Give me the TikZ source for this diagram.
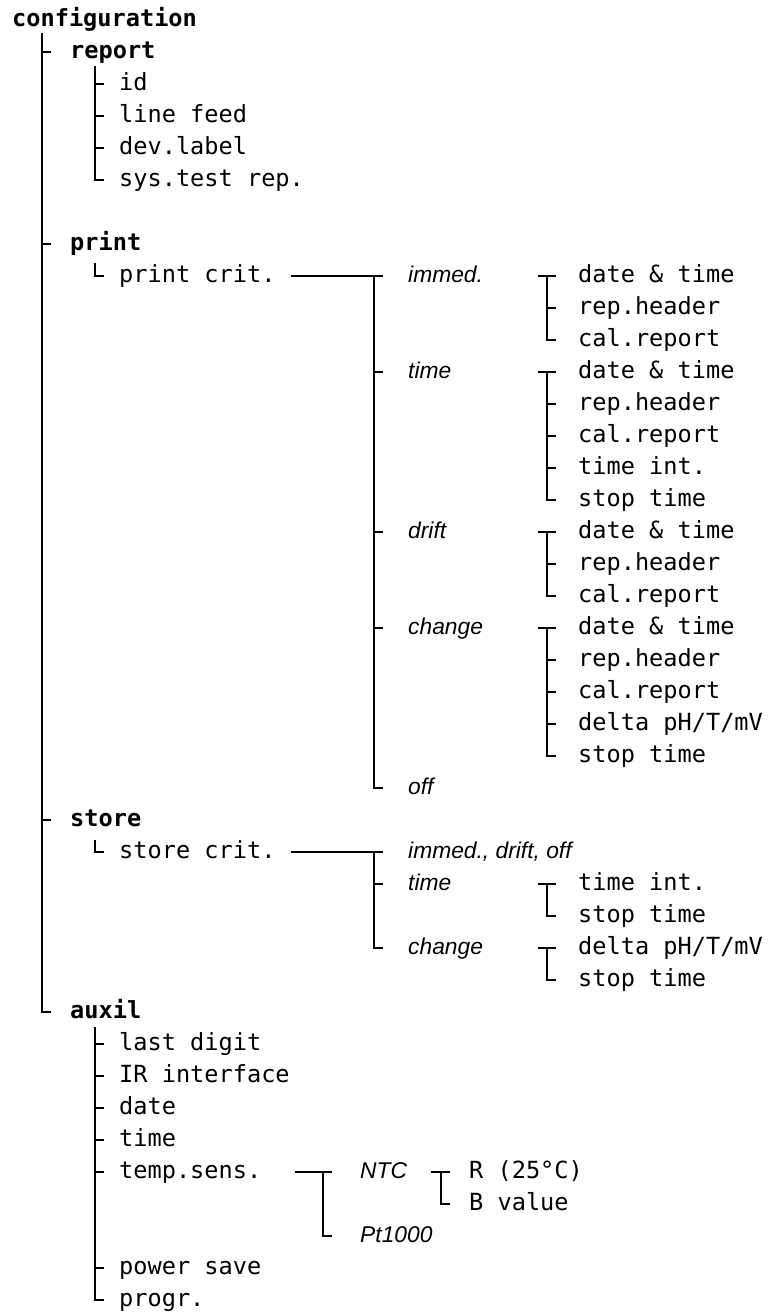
\documentclass[tikz,border=0pt]{standalone}
\usepackage{fontspec}
\setmonofont{DejaVu Sans Mono}
\newfontfamily\labfont{Liberation Sans}
\tikzset{
  tx/.style={anchor=mid west, inner sep=0pt, font=\ttfamily\fontsize{23.6bp}{28bp}\selectfont},
  hd/.style={anchor=mid west, inner sep=0pt, font=\ttfamily\bfseries\fontsize{23.6bp}{28bp}\selectfont},
  lbl/.style={anchor=mid west, inner sep=0pt, font=\labfont\itshape\fontsize{22.8bp}{27bp}\selectfont},
  ln/.style={line width=2.1bp, line join=miter},
}
\newcommand\tk[2]{\draw[ln] (#1 |- #2.mid west) -- ++(9,0);}
\begin{document}
\ttfamily\fontsize{23.6bp}{28bp}\selectfont
\begin{tikzpicture}[x=1bp,y=-1bp]
\useasboundingbox (0,0) rectangle (768,1313);
% columns
\coordinate (c0) at (42,0);
\coordinate (c1) at (95,0);
\coordinate (c2) at (374,0);
\coordinate (c3a) at (538,0);
\coordinate (c3) at (547,0);
\coordinate (c4) at (323,0);
\coordinate (c5a) at (431,0);
\coordinate (c5) at (441,0);
% text
\node[hd] (conf) at (12,20) {configuration};
\node[hd] (report) at (70,52) {report};
\node[tx] (id) at (119,84) {id};
\node[tx] (lf) at (119,116) {line feed};
\node[tx] (devl) at (119,148) {dev.label};
\node[tx] (syst) at (119,180) {sys.test rep.};
\node[hd] (print) at (70,244) {print};
\node[tx] (pcrit) at (119,276) {print crit.};
\node[lbl] (pimm) at (408,276) {immed.};
\node[tx] (pimm1) at (578,276) {date \& time};
\node[tx] (pimm2) at (578,308) {rep.header};
\node[tx] (pimm3) at (578,340) {cal.report};
\node[lbl] (ptime) at (408,372) {time};
\node[tx] (ptime1) at (578,372) {date \& time};
\node[tx] (ptime2) at (578,404) {rep.header};
\node[tx] (ptime3) at (578,436) {cal.report};
\node[tx] (ptime4) at (578,468) {time int.};
\node[tx] (ptime5) at (578,500) {stop time};
\node[lbl] (pdrift) at (408,532) {drift};
\node[tx] (pdrift1) at (578,532) {date \& time};
\node[tx] (pdrift2) at (578,564) {rep.header};
\node[tx] (pdrift3) at (578,596) {cal.report};
\node[lbl] (pchg) at (408,628) {change};
\node[tx] (pchg1) at (578,628) {date \& time};
\node[tx] (pchg2) at (578,660) {rep.header};
\node[tx] (pchg3) at (578,692) {cal.report};
\node[tx] (pchg4) at (578,724) {delta pH/T/mV};
\node[tx] (pchg5) at (578,756) {stop time};
\node[lbl] (poff) at (408,788) {off};
\node[hd] (store) at (70,820) {store};
\node[tx] (scrit) at (119,852) {store crit.};
\node[lbl] (sidf) at (408,852) {immed., drift, off};
\node[lbl] (stime) at (408,884) {time};
\node[tx] (stime1) at (578,884) {time int.};
\node[tx] (stime2) at (578,916) {stop time};
\node[lbl] (schg) at (408,948) {change};
\node[tx] (schg1) at (578,948) {delta pH/T/mV};
\node[tx] (schg2) at (578,980) {stop time};
\node[hd] (auxil) at (70,1012) {auxil};
\node[tx] (a1) at (119,1044) {last digit};
\node[tx] (a2) at (119,1076) {IR interface};
\node[tx] (a3) at (119,1108) {date};
\node[tx] (a4) at (119,1140) {time};
\node[tx] (a5) at (119,1172) {temp.sens.};
\node[lbl] (ntc) at (360,1172) {NTC};
\node[tx] (ntc1) at (469,1172) {R (25°C)};
\node[tx] (ntc2) at (469,1204) {B value};
\node[lbl] (pt) at (360,1236) {Pt1000};
\node[tx] (a6) at (119,1268) {power save};
\node[tx] (a7) at (119,1300) {progr.};
% main trunk
\draw[ln] (c0 |- conf.mid west) ++(0,13) -- (c0 |- auxil.mid west) -- ++(9,0);
\tk{c0}{report}\tk{c0}{print}\tk{c0}{store}
% report
\draw[ln] (c1 |- report.mid west) ++(0,14) -- (c1 |- syst.mid west) -- ++(9,0);
\tk{c1}{id}\tk{c1}{lf}\tk{c1}{devl}
% print
\draw[ln] (c1 |- print.mid west) ++(0,19) -- (c1 |- pcrit.mid west) -- ++(9,0);
\draw[ln] ([xshift=15bp]pcrit.mid east) -- (c2 |- pcrit.mid east) -- ++(9,0);
\draw[ln] (c2 |- pcrit.mid east) -- (c2 |- poff.mid west) -- ++(9,0);
\tk{c2}{ptime}\tk{c2}{pdrift}\tk{c2}{pchg}
% print groups
\draw[ln] (c3a |- pimm1.mid west) -- ++(18,0);
\draw[ln] (c3 |- pimm1.mid west) -- (c3 |- pimm3.mid west) -- ++(9,0);
\tk{c3}{pimm2}
\draw[ln] (c3a |- ptime1.mid west) -- ++(18,0);
\draw[ln] (c3 |- ptime1.mid west) -- (c3 |- ptime5.mid west) -- ++(9,0);
\tk{c3}{ptime2}\tk{c3}{ptime3}\tk{c3}{ptime4}
\draw[ln] (c3a |- pdrift1.mid west) -- ++(18,0);
\draw[ln] (c3 |- pdrift1.mid west) -- (c3 |- pdrift3.mid west) -- ++(9,0);
\tk{c3}{pdrift2}
\draw[ln] (c3a |- pchg1.mid west) -- ++(18,0);
\draw[ln] (c3 |- pchg1.mid west) -- (c3 |- pchg5.mid west) -- ++(9,0);
\tk{c3}{pchg2}\tk{c3}{pchg3}\tk{c3}{pchg4}
% store
\draw[ln] (c1 |- store.mid west) ++(0,20) -- (c1 |- scrit.mid west) -- ++(9,0);
\draw[ln] ([xshift=15bp]scrit.mid east) -- (c2 |- scrit.mid east) -- ++(9,0);
\draw[ln] (c2 |- scrit.mid east) -- (c2 |- schg.mid west) -- ++(9,0);
\tk{c2}{stime}
\draw[ln] (c3a |- stime1.mid west) -- ++(18,0);
\draw[ln] (c3 |- stime1.mid west) -- (c3 |- stime2.mid west) -- ++(9,0);
\draw[ln] (c3a |- schg1.mid west) -- ++(18,0);
\draw[ln] (c3 |- schg1.mid west) -- (c3 |- schg2.mid west) -- ++(9,0);
% auxil
\draw[ln] (c1 |- auxil.mid west) ++(0,15) -- (c1 |- a7.mid west) -- ++(9,0);
\tk{c1}{a1}\tk{c1}{a2}\tk{c1}{a3}\tk{c1}{a4}\tk{c1}{a5}\tk{c1}{a6}
\draw[ln] ([xshift=34bp]a5.mid east) -- (c4 |- a5.mid east) -- ++(9,0);
\draw[ln] (c4 |- a5.mid east) -- (c4 |- pt.mid west) -- ++(9,0);
\draw[ln] (c5a |- ntc1.mid west) -- ++(19,0);
\draw[ln] (c5 |- ntc1.mid west) -- (c5 |- ntc2.mid west) -- ++(9,0);
\end{tikzpicture}
\end{document}
